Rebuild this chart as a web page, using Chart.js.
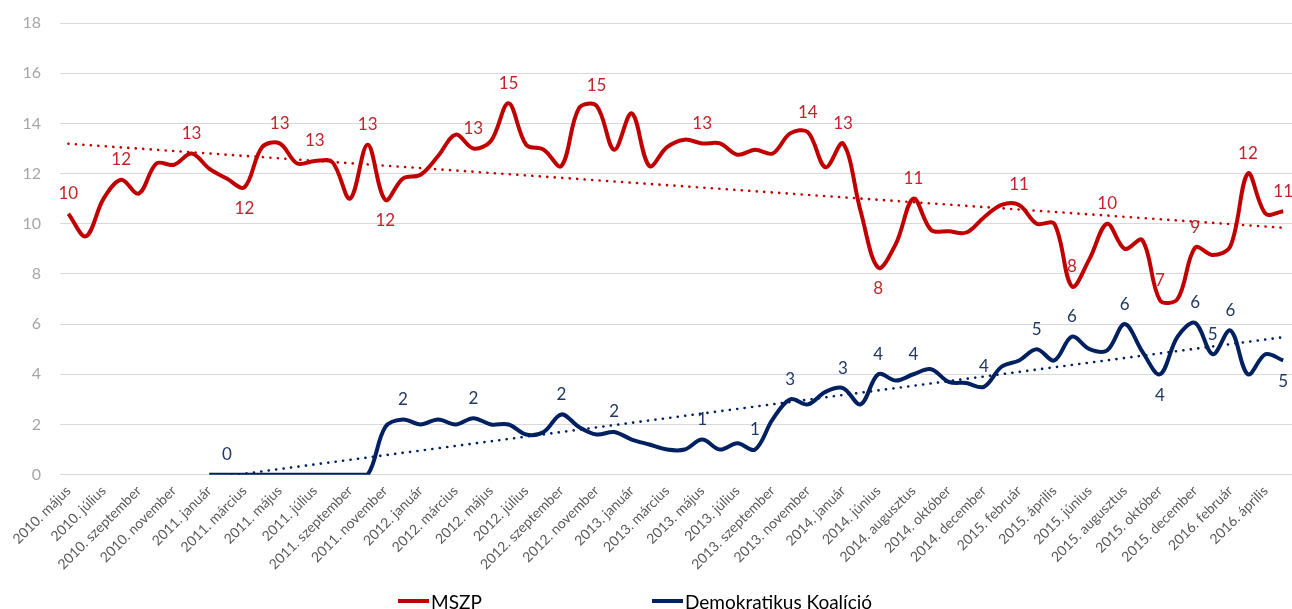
<!DOCTYPE html>
<html>
<head>
<meta charset="utf-8">
<script src="https://cdn.jsdelivr.net/npm/chart.js@4.4.1/dist/chart.umd.min.js"></script>
<style>
  html, body { margin: 0; padding: 0; background: #fff; overflow: hidden; }
  #wrap { position: relative; width: 1292px; height: 609px; }
  #legend { position: absolute; left: 0; top: 590px; width: 1292px; height: 22px; }
  #legend .item { position: absolute; top: 0; height: 22px; line-height: 22px; display: flex; align-items: center;
                  font: 19px Lato, sans-serif; color: #000; white-space: nowrap; }
  #legend .item i { display: inline-block; width: 31px; height: 4px; margin-right: 2px; }
</style>
</head>
<body>
<div id="wrap">
  <canvas id="chart" width="1292" height="609"></canvas>
  <div id="legend">
    <span class="item" style="left:398px"><i style="background:#c00000"></i>MSZP</span>
    <span class="item" style="left:652px"><i style="background:#002060"></i>Demokratikus Koalíció</span>
  </div>
</div>
<script>
// havi kategóriák (minden második felirat látszik a tengelyen)
const categories = [
  '2010. május', '2010. június', '2010. július', '2010. augusztus', '2010. szeptember', '2010. október',
  '2010. november', '2010. december',
  '2011. január', '2011. február', '2011. március', '2011. április', '2011. május', '2011. június',
  '2011. július', '2011. augusztus', '2011. szeptember', '2011. október', '2011. november', '2011. december',
  '2012. január', '2012. február', '2012. március', '2012. április', '2012. május', '2012. június',
  '2012. július', '2012. augusztus', '2012. szeptember', '2012. október', '2012. november', '2012. december',
  '2013. január', '2013. február', '2013. március', '2013. április', '2013. május', '2013. június',
  '2013. július', '2013. augusztus', '2013. szeptember', '2013. október', '2013. november', '2013. december',
  '2014. január', '2014. február',
  '2014. június', '2014. július', '2014. augusztus', '2014. szeptember', '2014. október', '2014. november',
  '2014. december',
  '2015. január', '2015. február', '2015. március', '2015. április', '2015. május', '2015. június',
  '2015. július', '2015. augusztus', '2015. szeptember', '2015. október', '2015. november', '2015. december',
  '2016. január', '2016. február', '2016. március', '2016. április', '2016. május'
];

const mszp = [
  10.4, 9.5, 11.0, 11.75, 11.2, 12.4, 12.35, 12.8, 12.2, 11.8,
  11.45, 13.05, 13.2, 12.4, 12.5, 12.45, 11.0, 13.15, 10.95, 11.8,
  11.95, 12.7, 13.55, 13.0, 13.3, 14.8, 13.15, 12.95, 12.3, 14.6,
  14.7, 12.95, 14.4, 12.3, 13.05, 13.35, 13.2, 13.2, 12.75, 12.95,
  12.8, 13.6, 13.65, 12.25, 13.2, 10.5, 8.25, 9.2, 11.0, 9.75,
  9.7, 9.65, 10.25, 10.75, 10.75, 10.0, 10.0, 7.5, 8.6, 10.0,
  9.0, 9.35, 6.95, 7.0, 9.05, 8.75, 9.1, 12.0, 10.4, 10.5
];

const dk = [
  null, null, null, null, null, null, null, null, 0, 0,
  0, 0, 0, 0, 0, 0, 0, 0, 1.9, 2.2,
  2.0, 2.2, 2.0, 2.25, 2.0, 2.0, 1.6, 1.7, 2.4, 1.9,
  1.6, 1.7, 1.4, 1.2, 1.0, 1.0, 1.4, 1.0, 1.25, 1.0,
  2.2, 3.0, 2.8, 3.3, 3.45, 2.8, 4.0, 3.75, 4.0, 4.2,
  3.7, 3.65, 3.5, 4.3, 4.55, 5.0, 4.55, 5.5, 5.0, 4.95,
  6.0, 4.9, 4.0, 5.5, 6.05, 4.8, 5.75, 4.0, 4.8, 4.55
];

const yTicks = [0, 2, 4, 6, 8, 10, 12, 14, 16, 18];

// adatfeliratok: index, szöveg, hely (f = fölötte, a = alatta)
const mszpLabelIdx  = [0, 3, 7, 10, 12, 14, 17, 18, 23, 25, 30, 36, 42, 44, 46, 48, 54, 57, 59, 62, 64, 67, 69];
const mszpLabelText = ['10', '12', '13', '12', '13', '13', '13', '12', '13', '15', '15', '13', '14', '13', '8', '11', '11', '8', '10', '7', '9', '12', '11'];
const mszpLabelPos  = ['f', 'f', 'f', 'a', 'f', 'f', 'f', 'a', 'f', 'f', 'f', 'f', 'f', 'f', 'a', 'f', 'f', 'f', 'f', 'f', 'f', 'f', 'f'];

const dkLabelIdx  = [9, 19, 23, 28, 31, 36, 39, 41, 44, 46, 48, 52, 55, 57, 60, 62, 64, 65, 66, 69];
const dkLabelText = ['0', '2', '2', '2', '2', '1', '1', '3', '3', '4', '4', '4', '5', '6', '6', '4', '6', '5', '6', '5'];
const dkLabelPos  = ['f', 'f', 'f', 'f', 'f', 'f', 'f', 'f', 'f', 'f', 'f', 'f', 'f', 'f', 'f', 'a', 'f', 'f', 'f', 'a'];

// lineáris trend (legkisebb négyzetek) a meglévő pontokra
function linearTrend(values) {
    const pts = [];
    values.forEach((v, i) => { if (v !== null) pts.push([i, v]); });
    const n = pts.length;
    let sx = 0, sy = 0, sxx = 0, sxy = 0;
    pts.forEach(([x, y]) => { sx += x; sy += y; sxx += x * x; sxy += x * y; });
    const slope = (n * sxy - sx * sy) / (n * sxx - sx * sx);
    const icpt = (sy - slope * sx) / n;
    return values.map((v, i) => (v === null ? null : icpt + slope * i));
}

const FONT = 'Lato, sans-serif';

const valueLabels = {
    id: 'valueLabels',
    afterDatasetsDraw(chart) {
        const ctx = chart.ctx;
        const sets = [
            { ds: 0, idx: mszpLabelIdx, text: mszpLabelText, pos: mszpLabelPos, color: '#c3232a' },
            { ds: 1, idx: dkLabelIdx, text: dkLabelText, pos: dkLabelPos, color: '#1f3864' }
        ];
        ctx.save();
        ctx.font = '17px ' + FONT;
        ctx.textAlign = 'center';
        ctx.textBaseline = 'middle';
        sets.forEach(set => {
            const meta = chart.getDatasetMeta(set.ds);
            ctx.fillStyle = set.color;
            set.idx.forEach((i, k) => {
                const pt = meta.data[i];
                const dy = set.pos[k] === 'a' ? 21 : -20;
                ctx.fillText(set.text[k], pt.x, pt.y + dy);
            });
        });
        ctx.restore();
    }
};

new Chart(document.getElementById('chart'), {
    type: 'line',
    data: {
        labels: categories,
        datasets: [
            {
                label: 'MSZP',
                data: mszp,
                borderColor: '#c00000',
                borderWidth: 4,
                tension: 0.35,
                pointRadius: 0
            },
            {
                label: 'Demokratikus Koalíció',
                data: dk,
                borderColor: '#002060',
                borderWidth: 4,
                tension: 0.35,
                pointRadius: 0
            },
            {
                label: 'MSZP trend',
                data: linearTrend(mszp),
                borderColor: '#c00000',
                borderWidth: 2.6,
                borderDash: [0.1, 7.4],
                borderCapStyle: 'round',
                tension: 0,
                pointRadius: 0
            },
            {
                label: 'DK trend',
                data: linearTrend(dk),
                borderColor: '#002060',
                borderWidth: 2.6,
                borderDash: [0.1, 7.4],
                borderCapStyle: 'round',
                tension: 0,
                pointRadius: 0
            }
        ]
    },
    options: {
        responsive: false,
        animation: false,
        devicePixelRatio: 1,
        layout: { padding: { left: 4, right: 0, top: 23, bottom: 28 } },
        plugins: {
            legend: { display: false },
            tooltip: { enabled: false }
        },
        scales: {
            x: {
                offset: true,
                grid: { display: false, drawTicks: false },
                border: { display: false },
                afterFit: (scale) => { scale.paddingLeft = 0; scale.paddingRight = 0; },
                ticks: {
                    autoSkip: false,
                    minRotation: 45,
                    maxRotation: 45,
                    padding: 8,
                    color: '#595959',
                    font: { family: FONT, size: 14 },
                    callback: function (value, index) {
                        return index % 2 === 0 ? this.getLabelForValue(value) : '';
                    }
                }
            },
            y: {
                min: yTicks[0],
                max: yTicks[yTicks.length - 1],
                afterBuildTicks: (axis) => { axis.ticks = yTicks.map(v => ({ value: v })); },
                afterFit: (scale) => { scale.paddingTop = 0; scale.paddingBottom = 0; },
                grid: { color: '#d9d9d9', lineWidth: 1, drawTicks: false },
                border: { display: false },
                ticks: {
                    padding: 18.5,
                    color: '#a6a6a6',
                    font: { family: FONT, size: 16 }
                }
            }
        }
    },
    plugins: [valueLabels]
});
</script>
</body>
</html>
